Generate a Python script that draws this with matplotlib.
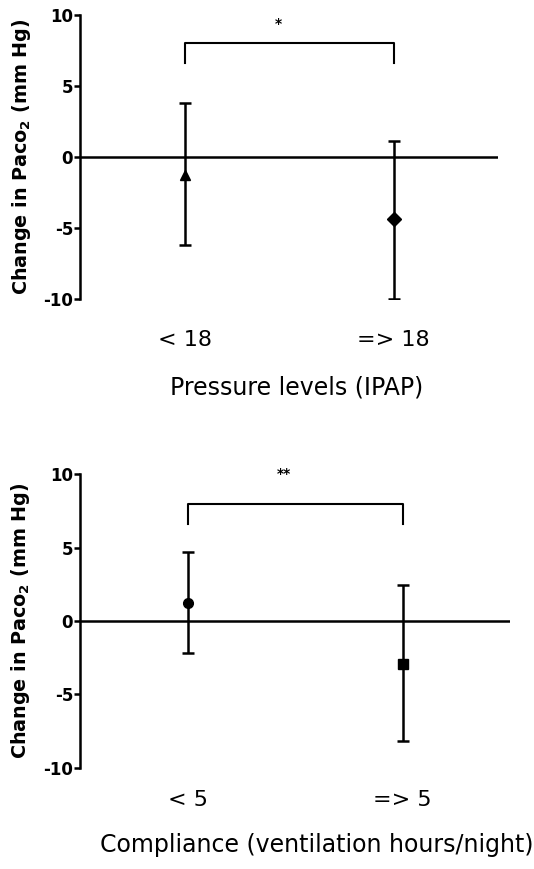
import matplotlib
matplotlib.use("Agg")
import matplotlib.pyplot as plt

# ====== DATA ======
top_labels = ["< 18", "=> 18"]
top_means = [-1.3, -4.4]
top_upper = [3.8, 1.1]
top_lower = [-6.2, -10.0]
top_markers = ["^", "D"]
top_star = "*"

bot_labels = ["< 5", "=> 5"]
bot_means = [1.25, -2.9]
bot_upper = [4.7, 2.45]
bot_lower = [-2.2, -8.2]
bot_markers = ["o", "s"]
bot_star = "**"

bracket_y = 8.0
bracket_drop = 6.6

plt.rcParams['font.family'] = ['DejaVu Sans']
plt.rcParams['axes.unicode_minus'] = False

fig = plt.figure(figsize=(5.34, 8.69), dpi=100)
W, H = 534, 869

ax1 = fig.add_axes([80 / W, 1 - 299 / H, 418 / W, 284 / H])
ax2 = fig.add_axes([80 / W, 1 - 767.7 / H, 430 / W, 293.4 / H])


def draw_panel(ax, labels, means, upper, lower, markers, star, star_y, xpad):
    xs = [1, 2]
    ax.axhline(0, color="black", lw=1.8, zorder=1)
    for x, m, u, l, mk in zip(xs, means, upper, lower, markers):
        ax.errorbar([x], [m], yerr=[[m - l], [u - m]], fmt=mk, color="black",
                    ms=7, elinewidth=1.8, capsize=4.5, capthick=1.8, zorder=3)
    # significance bracket
    ax.plot([1, 1, 2, 2], [bracket_drop, bracket_y, bracket_y, bracket_drop],
            color="black", lw=1.5, clip_on=False)
    ax.text(1.45, star_y, star, ha="center", va="center", fontsize=10,
            fontweight="bold", clip_on=False)

    ax.set_xlim(0.5, 2.5)
    ax.set_ylim(-10, 10)
    ax.set_yticks([-10, -5, 0, 5, 10])
    ax.set_xticks(xs)
    ax.set_xticklabels(labels, fontsize=16)
    ax.tick_params(axis="x", length=0, pad=xpad)
    ax.tick_params(axis="y", direction="out", length=4, width=1.8, labelsize=12, pad=1)
    for t in ax.get_yticklabels():
        t.set_fontweight("bold")
    for s in ["top", "right", "bottom"]:
        ax.spines[s].set_visible(False)
    ax.spines["left"].set_linewidth(1.8)
    ax.set_ylabel("Change in Paco$_\\mathregular{2}$ (mm Hg)", fontsize=13.8, fontweight="bold")
    ax.yaxis.set_label_coords(-80 / 418 + 33 / 418, 0.5)


draw_panel(ax1, top_labels, top_means, top_upper, top_lower, top_markers, top_star, 9.4, 22)
draw_panel(ax2, bot_labels, bot_means, bot_upper, bot_lower, bot_markers, bot_star, 10.0, 16)

fig.text(297 / W, 1 - 388 / H, "Pressure levels (IPAP)", ha="center", va="center", fontsize=17)
fig.text(100 / W, 1 - 845 / H, "Compliance (ventilation hours/night)", ha="left", va="center", fontsize=17)

fig.savefig("out.png", dpi=100)
